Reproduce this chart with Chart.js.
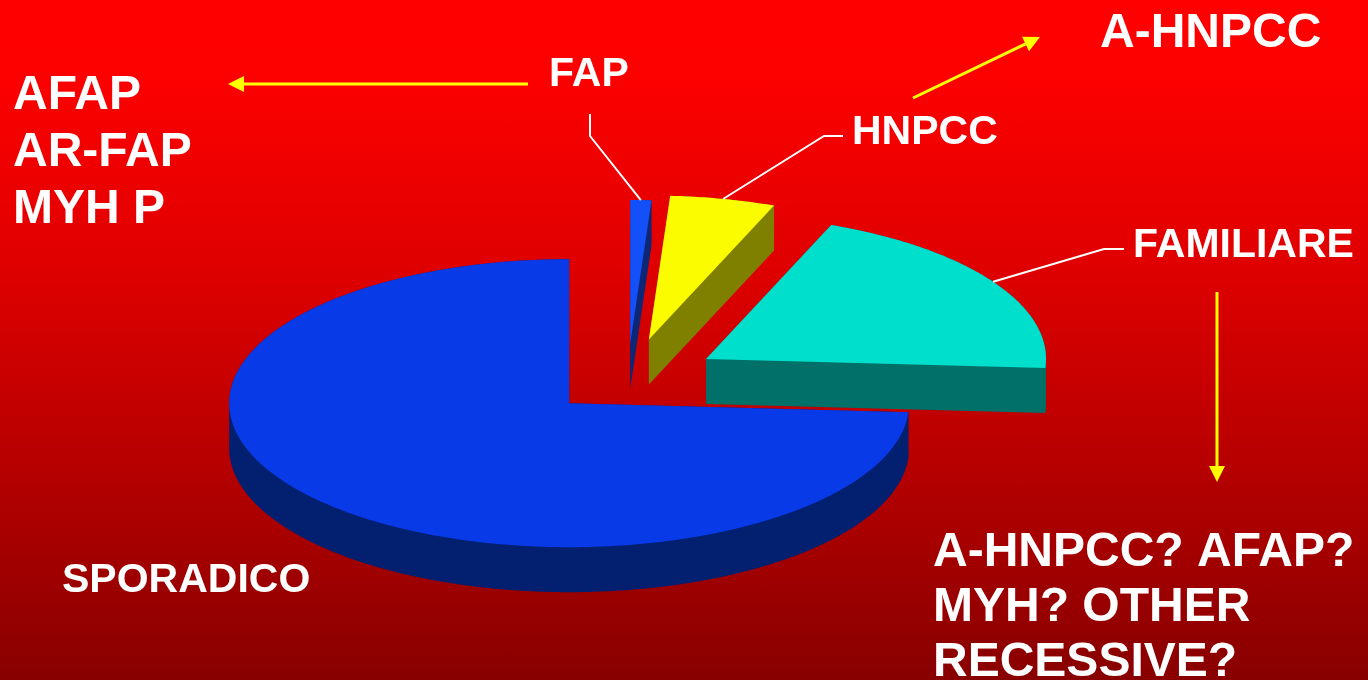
<!DOCTYPE html>
<html>
<head>
<meta charset="utf-8">
<script src="https://cdn.jsdelivr.net/npm/chart.js@4.4.1/dist/chart.umd.min.js"></script>
<style>
  html, body { margin: 0; padding: 0; }
  body {
    width: 1368px; height: 680px; overflow: hidden;
    background: linear-gradient(to bottom, #ff0000 0%, #fc0000 12%, #de0000 40%, #b40000 70%, #880000 100%);
  }
  canvas { display: block; }
</style>
</head>
<body>
<canvas id="pie" width="1368" height="680"></canvas>
<script>
// slices, clockwise from 12 o'clock
const categories = ['FAP', 'HNPCC', 'FAMILIARE', 'SPORADICO'];
const shares = [1, 5, 20, 74];
const pullOut = [85, 98, 93, 80];
const topColors = ['#1450f7', '#fcfc00', '#00dfcb', '#083ae8'];
const sideColors = ['#0d2675', '#808000', '#007068', '#021f70'];

// side notes
const notesLeft = ['AFAP', 'AR-FAP', 'MYH P'];
const notesTop = ['A-HNPCC'];
const notesBottom = ['A-HNPCC? AFAP?', 'MYH? OTHER', 'RECESSIVE?'];

const FONT = '"Liberation Sans", Arial, Helvetica, sans-serif';

// where each slice name sits and the elbow of its leader line
const sliceLabelPos = [
  { x: 549, y: 86, leader: [[590, 114], [590, 136]] },
  { x: 852, y: 144, leader: [[843, 136], [824, 136]] },
  { x: 1133, y: 257, leader: [[1124, 249], [1104, 249]] },
  { x: 62, y: 592, leader: null }
];

const arrows = [
  [[528, 84], [228, 84]],
  [[913, 98], [1040, 37]],
  [[1217, 292], [1217, 482]]
];

// flat pie geometry from Chart.js, squashed into an ellipse and extruded downwards
function sliceOutline(arc, cy, tilt) {
  const p = arc.getProps(['x', 'y', 'startAngle', 'endAngle', 'outerRadius']);
  const mid = (p.startAngle + p.endAngle) / 2;
  const off = arc.options.offset || 0;
  const ox = p.x + Math.cos(mid) * off;
  const oy = p.y + Math.sin(mid) * off;
  const proj = (x, y) => [x, cy + (y - cy) * tilt];
  const pts = [proj(ox, oy)];
  const steps = Math.max(2, Math.ceil((p.endAngle - p.startAngle) / 0.01));
  for (let k = 0; k <= steps; k++) {
    const a = p.startAngle + (p.endAngle - p.startAngle) * k / steps;
    pts.push(proj(ox + Math.cos(a) * p.outerRadius, oy + Math.sin(a) * p.outerRadius));
  }
  const rim = proj(ox + Math.cos(mid) * p.outerRadius, oy + Math.sin(mid) * p.outerRadius);
  return { pts, depthKey: oy, rim };
}

function signedArea(q) {
  let s = 0;
  for (let i = 0; i < q.length; i++) {
    const a = q[i], b = q[(i + 1) % q.length];
    s += a[0] * b[1] - b[0] * a[1];
  }
  return s;
}

function addPoly(ctx, q) {
  const pts = signedArea(q) < 0 ? q.slice().reverse() : q;
  ctx.moveTo(pts[0][0], pts[0][1]);
  for (let i = 1; i < pts.length; i++) ctx.lineTo(pts[i][0], pts[i][1]);
  ctx.closePath();
}

// one path: bottom face plus a quad per edge, all wound the same way so nonzero fills the union
function drawWalls(ctx, pts, depth) {
  ctx.beginPath();
  addPoly(ctx, pts.map(p => [p[0], p[1] + depth]));
  for (let i = 0; i < pts.length; i++) {
    const a = pts[i], b = pts[(i + 1) % pts.length];
    addPoly(ctx, [a, b, [b[0], b[1] + depth], [a[0], a[1] + depth]]);
  }
  ctx.fill('nonzero');
}

function drawTop(ctx, pts) {
  ctx.beginPath();
  ctx.moveTo(pts[0][0], pts[0][1]);
  for (let i = 1; i < pts.length; i++) ctx.lineTo(pts[i][0], pts[i][1]);
  ctx.closePath();
  ctx.fill();
}

function arrow(ctx, from, to) {
  const ang = Math.atan2(to[1] - from[1], to[0] - from[0]);
  const len = 16, half = 8;
  const bx = to[0] - Math.cos(ang) * len, by = to[1] - Math.sin(ang) * len;
  ctx.beginPath();
  ctx.moveTo(from[0], from[1]);
  ctx.lineTo(bx, by);
  ctx.stroke();
  ctx.beginPath();
  ctx.moveTo(to[0], to[1]);
  ctx.lineTo(bx + Math.sin(ang) * half, by - Math.cos(ang) * half);
  ctx.lineTo(bx - Math.sin(ang) * half, by + Math.cos(ang) * half);
  ctx.closePath();
  ctx.fill();
}

const pie3d = {
  id: 'pie3d',
  beforeDatasetsDraw(chart, args, opts) {
    const ctx = chart.ctx;
    const arcs = chart.getDatasetMeta(0).data;
    const cy = (chart.chartArea.top + chart.chartArea.bottom) / 2;
    const shapes = arcs.map((arc, i) => Object.assign(sliceOutline(arc, cy, opts.tilt), { i }));
    chart.$slices = shapes;

    ctx.save();
    // side walls, back to front
    shapes.slice().sort((a, b) => a.depthKey - b.depthKey).forEach(s => {
      ctx.fillStyle = opts.sideColors[s.i];
      drawWalls(ctx, s.pts, opts.depth);
    });
    // top faces
    shapes.forEach(s => {
      ctx.fillStyle = topColors[s.i];
      drawTop(ctx, s.pts);
    });
    ctx.restore();
    return false;
  },
  afterDraw(chart) {
    const ctx = chart.ctx;
    const slices = chart.$slices || [];
    ctx.save();

    // leader lines
    ctx.strokeStyle = '#ffffff';
    ctx.lineWidth = 2;
    sliceLabelPos.forEach((pos, i) => {
      if (!pos.leader || !slices[i]) return;
      ctx.beginPath();
      ctx.moveTo(pos.leader[0][0], pos.leader[0][1]);
      ctx.lineTo(pos.leader[1][0], pos.leader[1][1]);
      ctx.lineTo(slices[i].rim[0], slices[i].rim[1]);
      ctx.stroke();
    });

    // yellow arrows
    ctx.strokeStyle = '#ffff00';
    ctx.fillStyle = '#ffff00';
    ctx.lineWidth = 3;
    arrows.forEach(a => arrow(ctx, a[0], a[1]));

    // text
    ctx.fillStyle = '#ffffff';
    ctx.textBaseline = 'alphabetic';
    ctx.textAlign = 'left';
    ctx.font = 'bold 41px ' + FONT;
    chart.data.labels.forEach((name, i) => ctx.fillText(name, sliceLabelPos[i].x, sliceLabelPos[i].y));

    ctx.font = 'bold 48px ' + FONT;
    notesLeft.forEach((t, k) => ctx.fillText(t, 13, 109 + k * 57));
    notesTop.forEach((t, k) => ctx.fillText(t, 1100, 47 + k * 56));
    notesBottom.forEach((t, k) => ctx.fillText(t, 933, 566 + k * 55));
    ctx.restore();
  }
};

new Chart(document.getElementById('pie'), {
  type: 'pie',
  data: {
    labels: categories,
    datasets: [{
      data: shares,
      backgroundColor: topColors,
      offset: pullOut,
      radius: 340,
      borderWidth: 0
    }]
  },
  options: {
    responsive: false,
    animation: false,
    events: [],
    layout: { padding: { top: 80, right: 113, left: 0, bottom: 0 } },
    plugins: {
      legend: { display: false },
      tooltip: { enabled: false },
      pie3d: { tilt: 0.4235, depth: 45, sideColors: sideColors }
    }
  },
  plugins: [pie3d]
});
</script>
</body>
</html>
